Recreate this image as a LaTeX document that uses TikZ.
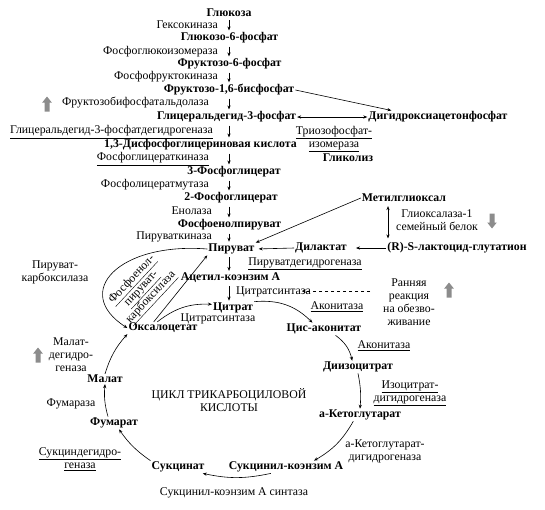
\documentclass[tikz,border=0pt]{standalone}
\usepackage{fontspec}
\setmainfont{Liberation Serif}
\usetikzlibrary{arrows.meta,calc}
\newcommand\dfs{\fontsize{11.8}{13}\selectfont}
\begin{document}
\begin{tikzpicture}[x=1pt,y=-1pt,
  every node/.style={inner sep=1pt, font=\dfs},
  met/.style={font=\dfs\bfseries},
  enz/.style={font=\dfs},
  ml/.style={align=center, font=\dfs},
  arr/.style={-{Stealth[length=4pt,width=3.2pt]}, line width=0.6pt},
  darr/.style={{Stealth[length=4pt,width=3.2pt]}-{Stealth[length=4pt,width=3.2pt]}, line width=0.6pt},
  pics/blkup/.style={code={\fill[black!45] (0,-7.5) -- (4.8,-1.5) -- (2.5,-1.5) -- (2.5,7.5) -- (-2.5,7.5) -- (-2.5,-1.5) -- (-4.8,-1.5) -- cycle;}}
]
\useasboundingbox (0,0) rectangle (545,509);
% ---- glycolysis metabolites
\node[met] (glc) at (229,13) {Глюкоза};
\node[met] (g6p) at (229.5,38) {Глюкозо-6-фосфат};
\node[met] (f6p) at (229.5,64) {Фруктозо-6-фосфат};
\node[met] (fbp) at (229,90) {Фруктозо-1,6-бисфосфат};
\node[met] (gap) at (226.5,117) {Глицеральдегид-3-фосфат};
\node[met] (dhap) at (438,117) {Дигидроксиацетонфосфат};
\node[met] (bpg) at (200.5,145) {1,3-Дисфосфоглицериновая кислота};
\node[met] (pg3) at (234,172) {3-Фосфоглицерат};
\node[met] (pg2) at (231,198) {2-Фосфоглицерат};
\node[met] (pep) at (229.5,225) {Фосфоенолпируват};
\node[met] (pyr) at (231.5,249) {Пируват};
\node[met] (gly) at (348,158) {Гликолиз};
% ---- glycolysis enzymes
\node[enz,anchor=east] (e1) at (219,25) {Гексокиназа};
\node[enz,anchor=east] (e2) at (219,52) {Фосфоглюкоизомераза};
\node[enz,anchor=east] (e3) at (219,77) {Фосфофруктокиназа};
\node[enz,anchor=east] (e4) at (210,103) {Фруктозобифосфатальдолаза};
\node[enz,anchor=east] (e5) at (214,132) {\underline{Глицеральдегид-3-фосфатдегидрогеназа}};
\node[enz,anchor=east] (e6) at (210,159) {\underline{Фосфоглицераткиназа}};
\node[enz,anchor=east] (e7) at (210,185) {Фосфолицератмутаза};
\node[enz,anchor=east] (e8) at (213,211) {Енолаза};
\node[enz,anchor=east] (e9) at (213,237) {Пируваткиназа};
\node[ml] (tpi) at (334,139) {\underline{Триозофосфат-}\\\underline{изомераза}};
% ---- methylglyoxal branch
\node[met] (mg) at (404,198) {Метилглиоксал};
\node[ml] (glo) at (437,220) {Глиоксалаза-1\\семейный белок};
\node[met] (dil) at (321,248) {Дилактат};
\node[met] (rsl) at (457,248) {(R)-S-лактоцид-глутатион};
% ---- TCA cycle
\node[met] (acoa) at (230.5,278) {Ацетил-коэнзим А};
\node[met] (cit) at (233,308) {Цитрат};
\node[met] (oaa) at (163,328) {Оксалоцетат};
\node[met] (cis) at (324,329) {Цис-аконитат};
\node[met] (iso) at (358,367) {Диизоцитрат};
\node[met] (akg) at (360,415) {а-Кетоглутарат};
\node[met] (scoa) at (286,467) {Сукцинил-коэнзим А};
\node[met] (suc) at (178,467) {Сукцинат};
\node[met] (fum) at (114,423) {Фумарат};
\node[met] (mal) at (105,379) {Малат};
\node[enz] (pdh) at (305,264) {\underline{Пируватдегидрогеназа}};
\node[enz,anchor=west] (cs1) at (235,292) {Цитратсинтаза};
\node[enz] (cs2) at (218,319) {Цитратсинтаза};
\node[enz] (acn1) at (337,307) {\underline{Аконитаза}};
\node[enz] (acn2) at (384,346) {\underline{Аконитаза}};
\node[ml] (idh) at (410,393) {\underline{Изоцитрат-}\\\underline{дигидрогеназа}};
\node[ml] (kgdh) at (385,451) {а-Кетоглутарат-\\дигидрогеназа};
\node[enz] (scs) at (234,493) {Сукцинил-коэнзим А синтаза};
\node[ml] (sdh) at (80,459) {\underline{Сукциндегидро-}\\\underline{геназа}};
\node[enz] (fumase) at (71,404) {Фумараза};
\node[ml] (mdh) at (71,355) {Малат-\\дегидро-\\геназа};
\node[ml] (pc) at (55,272) {Пируват-\\карбоксилаза};
\node[ml] (pepck) at (142,289) [rotate=47] {\underline{Фосфоенол-}\\\underline{пируват-}\\\underline{карбоксилаза}};
\node[ml] (early) at (409,302) {Ранняя\\реакция\\на обезво-\\живание};
\node[ml] (tca) at (229,400) {ЦИКЛ ТРИКАРБОЦИЛОВОЙ\\КИСЛОТЫ};
% ---- grey block arrows
\pic at (47,104) {blkup};
\pic[rotate=180] at (492,221) {blkup};
\pic at (449,290) {blkup};
\pic at (38,355) {blkup};
% ---- glycolysis arrows
\coordinate (xc) at (229,0);
\foreach \a/\b in {glc/g6p,g6p/f6p,f6p/fbp,fbp/gap,gap/bpg,bpg/pg3,pg3/pg2,pg2/pep,pep/pyr,pyr/acoa,acoa/cit}
  \draw[arr, shorten <=2pt, shorten >=1pt] (\a.south -| xc) -- (\b.north -| xc);
\draw[arr] (fbp.east) -- ($(dhap.north west)!0.17!(dhap.north east)$);
\draw[darr] (gap.east) -- (dhap.west);
% ---- methylglyoxal arrows
\coordinate (vx) at (388,0);
\draw[darr, shorten <=3pt, shorten >=3pt] (mg.south -| vx) -- (rsl.north -| vx);
\draw[arr] (mg.west) -- (pyr.north east);
\draw[arr, shorten >=3pt] (dil.west) -- (pyr.east);
\draw[arr, shorten >=8pt] (rsl.west) -- (dil.east);
\coordinate (d1) at (370,291);
\coordinate (d2) at (302,291);
\draw[arr, dashed, line width=0.5pt] (d1) -- (d2);
% ---- cycle arrows
\draw[arr] (cit.north east) to[bend left=25] ($(cis.north west)!0.35!(cis.north east)$);
\draw[arr] ($(cis.south west)!0.65!(cis.south east)$) to[bend left=20] ($(iso.north west)!0.42!(iso.north east)$);
\draw[arr] (iso.south) to[bend left=8] (akg.north);
\draw[arr] ($(akg.south west)!0.42!(akg.south east)$) to[bend left=15] ($(scoa.north west)!0.74!(scoa.north east)$);
\draw[arr] ($(scoa.south west)!0.37!(scoa.south east)$) to[bend left=12] ($(suc.south west)!0.95!(suc.south east)$);
\draw[arr] (suc.north west) to[bend left=10] ($(fum.south west)!0.6!(fum.south east)$);
\draw[arr] ($(fum.north west)!0.38!(fum.north east)$) to[bend left=10] (mal.south);
\draw[arr] (mal.north) to[bend left=12] (oaa.south west);
\draw[arr] ($(oaa.north west)!0.42!(oaa.north east)$) to[bend left=20] (cit.170);
\draw[arr] ($(oaa.north west)!0.37!(oaa.north east)$) -- (pyr.south west);
\draw[arr] (pyr.west) .. controls +(-88,-7) and +(-56,-36) .. (oaa.west);
\end{tikzpicture}
\end{document}
